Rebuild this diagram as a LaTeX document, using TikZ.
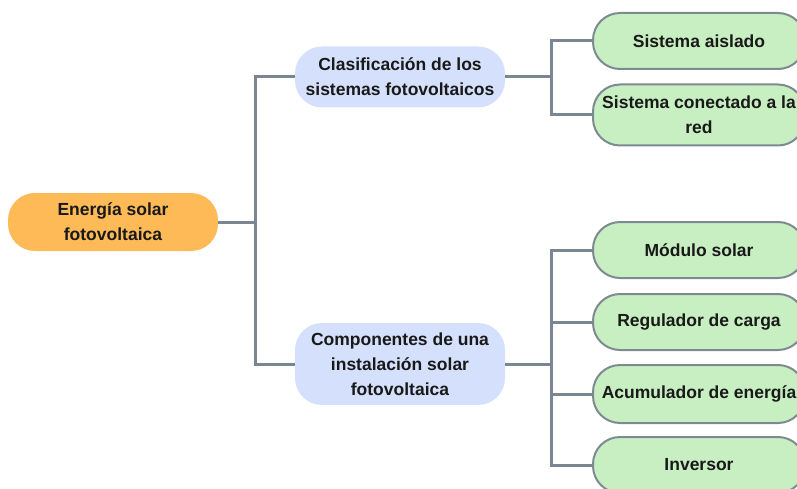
\documentclass[tikz,border=0pt]{standalone}
\usepackage{fontspec}
\setmainfont{Liberation Sans}
\definecolor{rootorange}{RGB}{253,186,87}
\definecolor{midblue}{RGB}{213,225,252}
\definecolor{leafgreen}{RGB}{200,239,193}
\definecolor{leafline}{RGB}{125,138,145}
\definecolor{linkgrey}{RGB}{122,134,145}
\usepackage{tikz}
\usetikzlibrary{positioning}

\tikzset{
  box/.style={rectangle, rounded corners=27pt, minimum width=210pt,
    inner sep=0pt, align=center, text=black!90,
    font=\fontsize{17.5}{25}\selectfont\bfseries},
  rootbox/.style={box, fill=rootorange, minimum height=58pt},
  midbox/.style={box, fill=midblue},
  leafbox/.style={box, fill=leafgreen, draw=leafline, line width=2pt,
    minimum width=212pt, minimum height=56pt},
  link/.style={draw=linkgrey, line width=3pt}
}

\begin{document}
\begin{tikzpicture}[x=1pt, y=-1pt]
  \clip (0,0) rectangle (797,489);

  \node[rootbox] (root) at (113,222) {Energía solar\\fotovoltaica};

  \node[midbox, minimum height=61pt] (clasif) at (400,77)
    {Clasificación de los\\sistemas fotovoltaicos};
  \node[midbox, minimum height=82pt] (compon) at (400,364)
    {Componentes de una\\instalación solar\\fotovoltaica};

  \node[leafbox] (aislado) at (699,41) {Sistema aislado};
  \node[leafbox, minimum height=61pt] (conectado) at (699,115)
    {Sistema conectado a la\\red};

  \node[leafbox] (modulo) at (699,250) {Módulo solar};
  \node[leafbox] (regulador) at (699,322) {Regulador de carga};
  \node[leafbox, minimum height=58pt] (acumulador) at (699,394) {Acumulador de energía};
  \node[leafbox] (inversor) at (699,465) {Inversor};

  % root to the two branches
  \draw[link] (root.east) -- ++(37,0) |- (clasif.west);
  \draw[link] (root.east) -- ++(37,0) |- (compon.west);

  % classification
  \foreach \leaf in {aislado, conectado}
    \draw[link] (clasif.east) -- ++(46,0) |- (\leaf.west);

  % components
  \foreach \leaf in {modulo, regulador, acumulador, inversor}
    \draw[link] (compon.east) -- ++(46,0) |- (\leaf.west);
\end{tikzpicture}
\end{document}
